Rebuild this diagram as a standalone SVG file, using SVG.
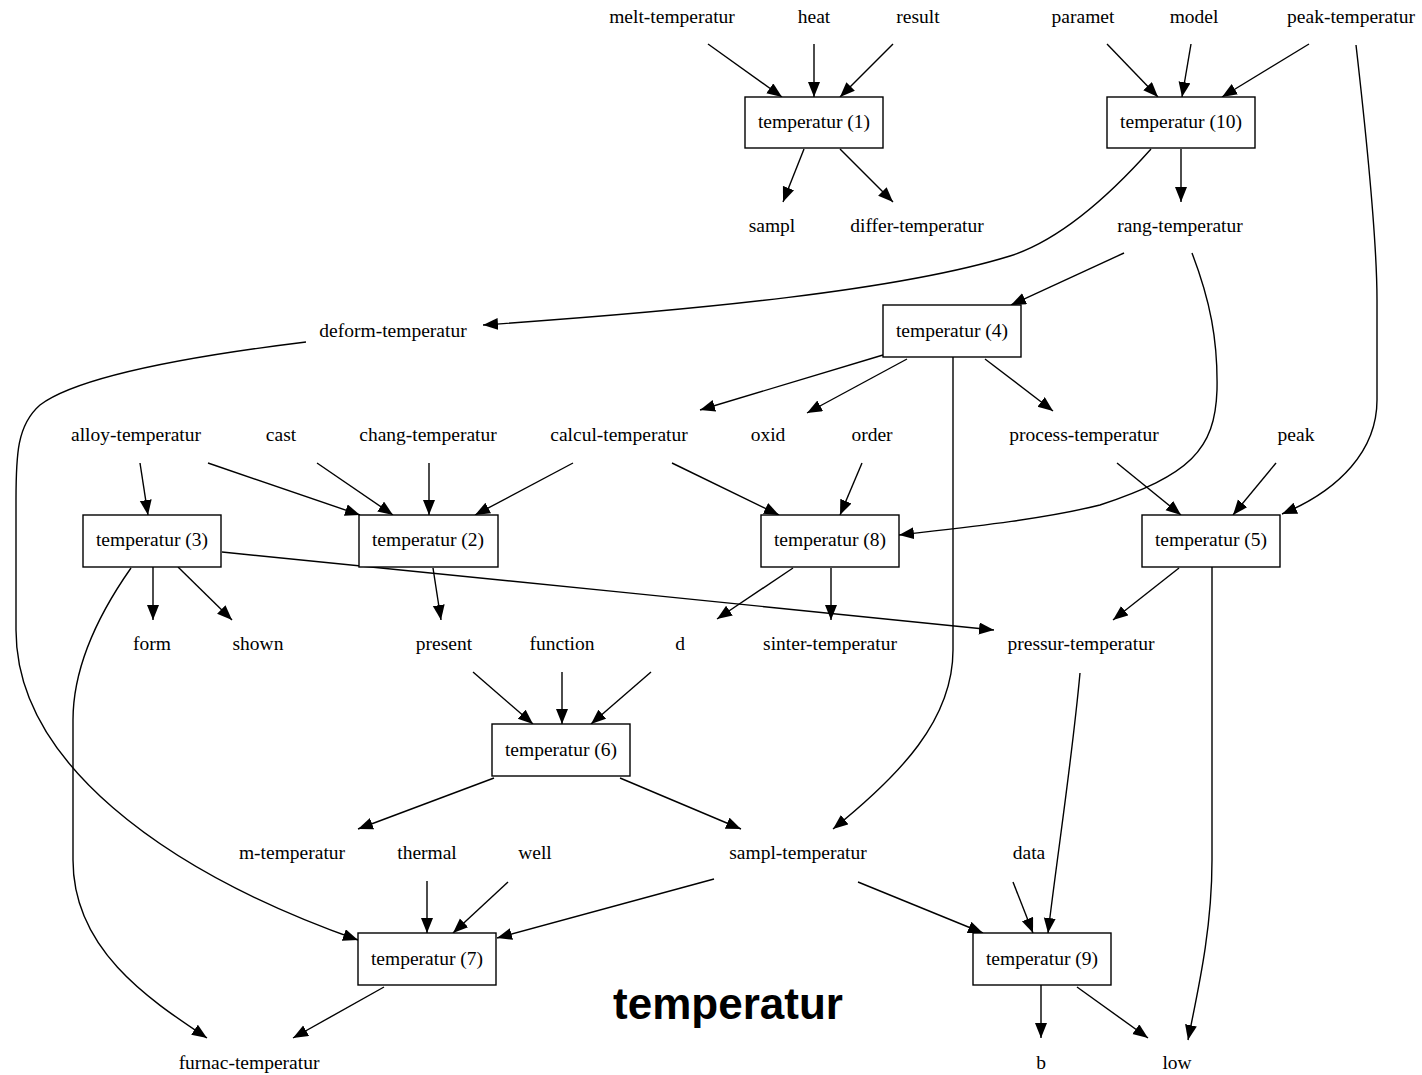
<svg xmlns="http://www.w3.org/2000/svg" width="1422" height="1075" viewBox="0 0 1422 1075">
<defs>
<marker id="ah" markerUnits="userSpaceOnUse" markerWidth="16" markerHeight="13" refX="15" refY="6" orient="auto">
<path d="M0,0 L15,6 L0,12 Z" fill="#000"/>
</marker>
</defs>
<style>
text{font-family:"Liberation Serif","Times New Roman",serif;font-size:19.5px;fill:#000;text-anchor:middle}
.box rect{fill:#fff;stroke:#000;stroke-width:1.4}
#edges path{fill:none;stroke:#000;stroke-width:1.4;marker-end:url(#ah)}
.title{font-family:"Liberation Sans",Arial,sans-serif;font-weight:bold;font-size:44px}
</style>
<rect width="1422" height="1075" fill="#fff"/>
<g id="edges">
<path d="M708,44 L782,97"/>
<path d="M814,44 L814,97"/>
<path d="M893,44 L840,97"/>
<path d="M804,149 L783,202"/>
<path d="M840,149 L893,202"/>
<path d="M1107,44 L1158,97"/>
<path d="M1191,44 L1182,97"/>
<path d="M1309,44 L1222,97"/>
<path d="M1356,45 C1368,150 1377,250 1377,300 L1377,400 C1377,450 1340,490 1282,514"/>
<path d="M1181,149 L1181,202"/>
<path d="M1151,149 C1110,195 1060,240 1010,256 C900,290 700,310 483,325"/>
<path d="M1124,253 L1011,305"/>
<path d="M1192,253 C1210,300 1218,340 1217,390 C1215,450 1190,475 1100,505 C1040,520 960,528 899,535"/>
<path d="M883,355 L700,410"/>
<path d="M907,359 L807,413"/>
<path d="M985,359 L1053,411"/>
<path d="M953,357 L953,650 C953,720 900,775 833,829"/>
<path d="M140,463 L148,515"/>
<path d="M208,463 L360,515"/>
<path d="M317,463 L393,515"/>
<path d="M429,463 L429,515"/>
<path d="M573,463 L475,515"/>
<path d="M672,463 L779,515"/>
<path d="M862,463 L840,515"/>
<path d="M1117,463 L1181,515"/>
<path d="M1276,463 L1233,515"/>
<path d="M153,567 L153,620"/>
<path d="M178,567 L232,620"/>
<path d="M222,552 C400,570 800,610 994,630"/>
<path d="M131,568 C105,605 73,660 73,720 L73,860 C73,950 150,1000 207,1038"/>
<path d="M433,568 L441,620"/>
<path d="M793,568 L717,619"/>
<path d="M831,568 L831,620"/>
<path d="M1179,568 L1113,620"/>
<path d="M1212,567 L1212,860 C1212,930 1198,990 1188,1040"/>
<path d="M473,672 L533,724"/>
<path d="M562,672 L562,724"/>
<path d="M651,672 L591,724"/>
<path d="M494,778 L358,829"/>
<path d="M620,778 L741,829"/>
<path d="M306,342 C200,355 80,375 40,405 C17,425 16,455 16,500 L16,630 C16,760 160,870 358,940"/>
<path d="M427,881 L427,933"/>
<path d="M508,882 L453,933"/>
<path d="M714,879 L497,938"/>
<path d="M858,882 L983,933"/>
<path d="M1013,882 L1033,933"/>
<path d="M1080,673 C1072,760 1058,850 1048,933"/>
<path d="M1041,985 L1041,1038"/>
<path d="M1077,987 L1148,1038"/>
<path d="M384,987 L293,1038"/>
</g>
<g id="t1" class="box"><rect x="745" y="97" width="138" height="51"/><text x="814" y="128">temperatur (1)</text></g>
<g id="t10" class="box"><rect x="1107" y="97" width="148" height="51"/><text x="1181" y="128">temperatur (10)</text></g>
<g id="t4" class="box"><rect x="883" y="305" width="138" height="52"/><text x="952" y="337">temperatur (4)</text></g>
<g id="t3" class="box"><rect x="83" y="515" width="138" height="52"/><text x="152" y="546">temperatur (3)</text></g>
<g id="t2" class="box"><rect x="359" y="515" width="139" height="52"/><text x="428" y="546">temperatur (2)</text></g>
<g id="t8" class="box"><rect x="761" y="515" width="138" height="52"/><text x="830" y="546">temperatur (8)</text></g>
<g id="t5" class="box"><rect x="1142" y="515" width="138" height="52"/><text x="1211" y="546">temperatur (5)</text></g>
<g id="t6" class="box"><rect x="492" y="724" width="138" height="52"/><text x="561" y="756">temperatur (6)</text></g>
<g id="t7" class="box"><rect x="358" y="933" width="138" height="52"/><text x="427" y="965">temperatur (7)</text></g>
<g id="t9" class="box"><rect x="973" y="933" width="138" height="52"/><text x="1042" y="965">temperatur (9)</text></g>
<g id="n-melt"><text x="672" y="23">melt-temperatur</text></g>
<g id="n-heat"><text x="814" y="23">heat</text></g>
<g id="n-result"><text x="918" y="23">result</text></g>
<g id="n-paramet"><text x="1083" y="23">paramet</text></g>
<g id="n-model"><text x="1194" y="23">model</text></g>
<g id="n-peaktemp"><text x="1351" y="23">peak-temperatur</text></g>
<g id="n-sampl"><text x="772" y="232">sampl</text></g>
<g id="n-differ"><text x="917" y="232">differ-temperatur</text></g>
<g id="n-rang"><text x="1180" y="232">rang-temperatur</text></g>
<g id="n-deform"><text x="393" y="337">deform-temperatur</text></g>
<g id="n-alloy"><text x="136" y="441">alloy-temperatur</text></g>
<g id="n-cast"><text x="281" y="441">cast</text></g>
<g id="n-chang"><text x="428" y="441">chang-temperatur</text></g>
<g id="n-calcul"><text x="619" y="441">calcul-temperatur</text></g>
<g id="n-oxid"><text x="768" y="441">oxid</text></g>
<g id="n-order"><text x="872" y="441">order</text></g>
<g id="n-process"><text x="1084" y="441">process-temperatur</text></g>
<g id="n-peak"><text x="1296" y="441">peak</text></g>
<g id="n-form"><text x="152" y="650">form</text></g>
<g id="n-shown"><text x="258" y="650">shown</text></g>
<g id="n-present"><text x="444" y="650">present</text></g>
<g id="n-function"><text x="562" y="650">function</text></g>
<g id="n-d"><text x="680" y="650">d</text></g>
<g id="n-sinter"><text x="830" y="650">sinter-temperatur</text></g>
<g id="n-pressur"><text x="1081" y="650">pressur-temperatur</text></g>
<g id="n-m"><text x="292" y="859">m-temperatur</text></g>
<g id="n-thermal"><text x="427" y="859">thermal</text></g>
<g id="n-well"><text x="535" y="859">well</text></g>
<g id="n-sampltemp"><text x="798" y="859">sampl-temperatur</text></g>
<g id="n-data"><text x="1029" y="859">data</text></g>
<g id="n-furnac"><text x="249" y="1069">furnac-temperatur</text></g>
<g id="n-b"><text x="1041" y="1069">b</text></g>
<g id="n-low"><text x="1177" y="1069">low</text></g>
<text class="title" x="728" y="1019">temperatur</text>
</svg>
